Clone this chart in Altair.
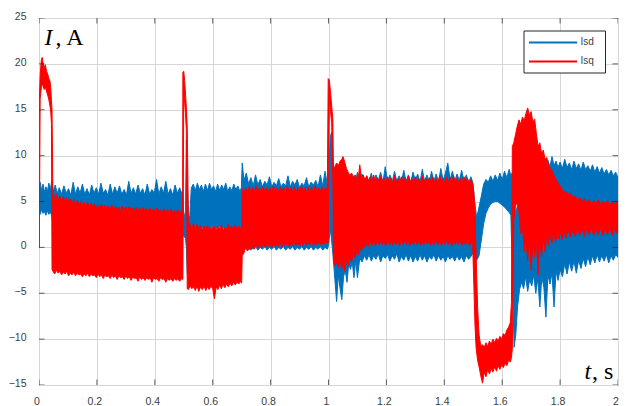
import altair as alt
import pandas as pd

# ---------------- data (lower/upper edge of each noisy band) ----------------
isd_t = [0.000, 0.004, 0.009, 0.014, 0.019, 0.024, 0.029, 0.034, 0.039, 0.044, 0.049, 0.056, 0.063, 0.070, 0.078,
         0.086, 0.094, 0.102, 0.110, 0.118, 0.126, 0.134, 0.142, 0.150, 0.158, 0.166, 0.174, 0.182, 0.190, 0.198,
         0.206, 0.214, 0.222, 0.230, 0.238, 0.246, 0.254, 0.262, 0.270, 0.278, 0.286, 0.294, 0.302, 0.310, 0.318,
         0.326, 0.334, 0.342, 0.350, 0.358, 0.366, 0.374, 0.382, 0.390, 0.398, 0.406, 0.414, 0.422, 0.430, 0.438,
         0.446, 0.454, 0.462, 0.470, 0.478, 0.486, 0.494, 0.497, 0.500, 0.506, 0.509, 0.512, 0.516, 0.521, 0.526,
         0.533, 0.540, 0.547, 0.554, 0.561, 0.568, 0.575, 0.582, 0.589, 0.596, 0.603, 0.610, 0.617, 0.624, 0.631,
         0.638, 0.645, 0.652, 0.659, 0.666, 0.673, 0.680, 0.687, 0.694, 0.699, 0.702, 0.708, 0.716, 0.724, 0.732,
         0.740, 0.748, 0.756, 0.764, 0.772, 0.780, 0.788, 0.796, 0.804, 0.812, 0.820, 0.828, 0.836, 0.844, 0.852,
         0.860, 0.868, 0.876, 0.884, 0.892, 0.900, 0.908, 0.916, 0.924, 0.932, 0.940, 0.948, 0.956, 0.964, 0.972,
         0.980, 0.988, 0.996, 1.000, 1.006, 1.010, 1.016, 1.022, 1.028, 1.034, 1.040, 1.046, 1.052, 1.058, 1.064,
         1.070, 1.076, 1.082, 1.088, 1.094, 1.100, 1.108, 1.116, 1.124, 1.132, 1.140, 1.148, 1.156, 1.164, 1.172,
         1.180, 1.188, 1.196, 1.204, 1.212, 1.220, 1.228, 1.236, 1.244, 1.252, 1.260, 1.268, 1.276, 1.284, 1.292,
         1.300, 1.308, 1.316, 1.324, 1.332, 1.340, 1.348, 1.356, 1.364, 1.372, 1.380, 1.388, 1.396, 1.404, 1.412,
         1.420, 1.428, 1.436, 1.444, 1.452, 1.460, 1.468, 1.476, 1.484, 1.492, 1.499, 1.505, 1.512, 1.520, 1.528,
         1.536, 1.544, 1.552, 1.560, 1.568, 1.576, 1.584, 1.592, 1.600, 1.608, 1.616, 1.624, 1.630, 1.636, 1.641,
         1.647, 1.653, 1.660, 1.667, 1.674, 1.681, 1.688, 1.695, 1.702, 1.709, 1.716, 1.723, 1.730, 1.737, 1.744,
         1.751, 1.758, 1.765, 1.772, 1.779, 1.786, 1.793, 1.800, 1.808, 1.816, 1.824, 1.832, 1.840, 1.848, 1.856,
         1.864, 1.872, 1.880, 1.888, 1.896, 1.904, 1.912, 1.920, 1.928, 1.936, 1.944, 1.952, 1.960, 1.968, 1.976,
         1.984, 1.992, 2.000]
isd_lo = [3.9, 3.6, 4.1, 3.7, 3.9, 3.5, 4.0, 3.6, 3.9, 3.4, 2.6, 2.4, 2.7, 2.5, 2.6,
          2.3, 2.6, 2.4, 2.6, 2.3, 2.6, 2.4, 2.5, 2.3, 2.6, 2.4, 2.5, 2.3, 2.6, 2.4,
          2.5, 2.3, 2.5, 2.4, 2.6, 2.3, 2.5, 2.4, 2.5, 2.3, 2.6, 2.4, 2.5, 2.3, 2.5,
          2.4, 2.6, 2.3, 2.5, 2.4, 2.5, 2.3, 2.5, 2.4, 2.6, 2.3, 2.5, 2.4, 2.5, 2.3,
          2.5, 2.4, 2.6, 2.3, 2.5, 2.4, 2.5, 2.4, 1.2, 1.0, 0.0, -2.8, -3.1, 1.0, 2.2,
          2.0, 2.3, 1.9, 2.2, 2.0, 2.3, 1.9, 2.2, 2.0, 2.3, 1.9, 2.2, 2.0, 2.3, 1.9,
          2.2, 2.0, 2.3, 1.9, 2.2, 2.0, 2.3, 1.9, 2.2, 2.0, -0.4, -0.2, 0.1, -0.3, 0.0,
          -0.2, 0.1, -0.3, 0.0, -0.2, 0.1, -0.3, 0.0, -0.2, 0.1, -0.3, 0.0, -0.2, 0.1, -0.3,
          0.0, -0.2, 0.1, -0.3, 0.0, -0.2, 0.1, -0.3, 0.0, -0.2, 0.1, -0.3, 0.0, -0.2, 0.1,
          -0.3, 0.0, -0.2, 0.2, 2.0, 1.0, -1.0, -3.5, -5.9, -3.0, -4.5, -5.7, -3.2, -2.5, -3.8,
          -1.8, -2.4, -1.6, -3.3, -1.4, -3.3, -1.2, -1.6, -0.9, -1.4, -0.8, -1.5, -0.9, -1.3, -0.7,
          -1.6, -0.9, -1.2, -0.8, -1.5, -0.9, -1.3, -0.7, -1.6, -1.0, -1.4, -0.8, -1.5, -0.9, -1.6,
          -1.0, -1.5, -0.8, -1.4, -0.9, -1.6, -1.0, -1.3, -0.8, -1.5, -0.9, -1.4, -1.0, -1.6, -0.9,
          -1.3, -1.0, -1.5, -0.9, -1.4, -1.0, -1.6, -0.9, -1.3, -1.0, -0.6, -0.8, -1.4, -0.9, 0.8,
          2.6, 3.7, 4.3, 4.7, 4.9, 5.0, 5.0, 4.8, 4.6, 4.4, 4.1, 3.8, 3.5, -4.0, -10.9,
          -9.5, -6.5, -4.6, -3.8, -4.5, -3.2, -4.8, -3.5, -4.2, -3.0, -5.0, -3.4, -6.5, -3.2, -4.4,
          -7.6, -3.0, -4.0, -2.8, -6.5, -2.6, -3.6, -2.4, -3.2, -1.8, -2.9, -1.6, -2.6, -1.5, -2.8,
          -1.4, -2.3, -1.2, -2.1, -1.0, -1.9, -0.9, -1.7, -0.8, -1.6, -0.9, -1.5, -0.8, -1.7, -0.9,
          -1.4, -0.8, -1.1]
isd_hi = [6.4, 7.1, 6.2, 6.9, 6.0, 6.6, 6.1, 7.0, 6.3, 7.2, 6.1, 6.8, 5.9, 6.5, 5.8,
          6.7, 5.9, 6.4, 5.7, 7.1, 5.8, 6.6, 5.9, 6.9, 5.8, 6.4, 5.7, 6.8, 5.9, 6.5,
          5.8, 7.0, 5.9, 6.3, 5.7, 6.9, 5.8, 6.6, 5.9, 6.7, 5.8, 6.3, 5.7, 7.2, 5.9,
          6.5, 5.8, 6.8, 5.9, 6.4, 5.7, 6.9, 5.8, 6.3, 5.9, 7.4, 5.8, 6.6, 5.9, 7.2,
          5.8, 6.4, 5.7, 6.8, 5.9, 6.5, 5.8, 6.2, 3.0, 4.0, 11.7, 8.0, 3.0, 3.5, 6.5,
          6.9, 6.2, 7.0, 6.3, 6.8, 6.1, 6.9, 6.2, 7.0, 6.3, 6.7, 6.1, 6.9, 6.2, 6.8,
          6.3, 7.0, 6.1, 6.6, 6.2, 6.9, 6.3, 6.7, 6.1, 6.5, 9.2, 7.3, 8.1, 6.9, 7.6,
          6.7, 7.9, 6.8, 7.4, 6.6, 7.2, 6.8, 7.7, 6.6, 7.1, 6.7, 7.5, 6.6, 7.0, 6.7,
          7.8, 6.6, 7.2, 6.8, 7.4, 6.5, 7.0, 6.7, 7.6, 6.6, 7.1, 6.8, 7.3, 6.6, 7.9,
          6.7, 8.3, 6.8, 7.0, 12.0, 12.5, 9.0, 7.4, 8.0, 7.2, 7.9, 7.3, 8.1, 7.0, 7.6,
          7.2, 8.0, 7.1, 7.8, 7.3, 8.2, 7.2, 8.0, 7.1, 7.8, 7.2, 8.1, 7.0, 7.9, 7.3,
          8.2, 7.1, 8.8, 7.2, 7.9, 7.1, 8.3, 7.2, 7.8, 7.1, 8.4, 7.2, 7.9, 7.1, 8.2,
          7.3, 8.0, 7.1, 8.5, 7.2, 7.9, 7.1, 8.3, 7.2, 8.0, 7.1, 8.6, 7.3, 8.1, 9.2,
          7.4, 8.3, 7.2, 8.0, 7.3, 8.4, 7.2, 7.9, 7.1, 7.7, 7.0, 5.0, 3.2, 4.4, 5.6,
          6.9, 7.4, 7.1, 7.8, 7.2, 7.9, 7.3, 8.1, 7.4, 8.3, 7.6, 8.5, 7.8, 8.2, 4.5,
          3.8, 4.6, 5.0, 4.2, 6.5, 8.5, 9.5, 8.7, 9.2, 8.6, 9.6, 8.8, 9.4, 8.7, 9.8,
          8.9, 9.5, 8.8, 9.9, 8.9, 9.4, 8.7, 9.3, 8.6, 9.6, 8.7, 9.2, 8.5, 9.4, 8.6,
          9.1, 8.4, 9.3, 8.5, 8.9, 8.3, 9.0, 8.2, 8.8, 8.1, 8.7, 8.0, 8.5, 7.9, 8.4,
          7.8, 8.2, 7.6]

isq_t = [0.000, 0.001, 0.004, 0.008, 0.011, 0.014, 0.018, 0.022, 0.026, 0.030, 0.034, 0.038, 0.041, 0.043, 0.045,
         0.048, 0.054, 0.060, 0.066, 0.072, 0.078, 0.084, 0.090, 0.096, 0.102, 0.108, 0.114, 0.120, 0.126, 0.132,
         0.138, 0.144, 0.150, 0.156, 0.162, 0.168, 0.174, 0.180, 0.186, 0.192, 0.198, 0.204, 0.210, 0.216, 0.222,
         0.228, 0.234, 0.240, 0.246, 0.252, 0.258, 0.264, 0.270, 0.276, 0.282, 0.288, 0.294, 0.300, 0.306, 0.312,
         0.318, 0.324, 0.330, 0.336, 0.342, 0.348, 0.354, 0.360, 0.366, 0.372, 0.378, 0.384, 0.390, 0.396, 0.402,
         0.408, 0.414, 0.420, 0.426, 0.432, 0.438, 0.444, 0.450, 0.456, 0.462, 0.468, 0.474, 0.480, 0.486, 0.492,
         0.496, 0.497, 0.500, 0.503, 0.506, 0.509, 0.512, 0.516, 0.522, 0.528, 0.534, 0.540, 0.546, 0.552, 0.558,
         0.564, 0.570, 0.576, 0.582, 0.588, 0.594, 0.600, 0.606, 0.612, 0.618, 0.624, 0.630, 0.636, 0.642, 0.648,
         0.654, 0.660, 0.666, 0.672, 0.678, 0.684, 0.690, 0.696, 0.700, 0.702, 0.708, 0.714, 0.720, 0.726, 0.732,
         0.738, 0.744, 0.750, 0.756, 0.762, 0.768, 0.774, 0.780, 0.786, 0.792, 0.798, 0.804, 0.810, 0.816, 0.822,
         0.828, 0.834, 0.840, 0.846, 0.852, 0.858, 0.864, 0.870, 0.876, 0.882, 0.888, 0.894, 0.900, 0.906, 0.912,
         0.918, 0.924, 0.930, 0.936, 0.942, 0.948, 0.954, 0.960, 0.966, 0.972, 0.978, 0.984, 0.990, 0.996, 0.999,
         1.003, 1.007, 1.011, 1.015, 1.017, 1.022, 1.028, 1.034, 1.040, 1.046, 1.050, 1.056, 1.062, 1.068, 1.074,
         1.080, 1.086, 1.092, 1.098, 1.104, 1.108, 1.114, 1.120, 1.126, 1.132, 1.138, 1.144, 1.150, 1.156, 1.162,
         1.168, 1.174, 1.180, 1.186, 1.192, 1.198, 1.204, 1.210, 1.216, 1.222, 1.228, 1.234, 1.240, 1.246, 1.252,
         1.258, 1.264, 1.270, 1.276, 1.282, 1.288, 1.294, 1.300, 1.306, 1.312, 1.318, 1.324, 1.330, 1.336, 1.342,
         1.348, 1.354, 1.360, 1.366, 1.372, 1.378, 1.384, 1.390, 1.396, 1.402, 1.408, 1.414, 1.420, 1.426, 1.432,
         1.438, 1.444, 1.450, 1.456, 1.462, 1.468, 1.474, 1.480, 1.486, 1.492, 1.498, 1.502, 1.506, 1.510, 1.515,
         1.520, 1.526, 1.532, 1.538, 1.544, 1.550, 1.556, 1.562, 1.568, 1.574, 1.580, 1.586, 1.592, 1.598, 1.604,
         1.610, 1.616, 1.622, 1.628, 1.632, 1.635, 1.640, 1.646, 1.652, 1.658, 1.664, 1.670, 1.676, 1.682, 1.688,
         1.694, 1.700, 1.706, 1.712, 1.718, 1.724, 1.730, 1.736, 1.742, 1.748, 1.754, 1.760, 1.766, 1.772, 1.778,
         1.784, 1.790, 1.796, 1.802, 1.808, 1.814, 1.820, 1.828, 1.836, 1.844, 1.852, 1.860, 1.868, 1.876, 1.884,
         1.892, 1.900, 1.908, 1.916, 1.924, 1.932, 1.940, 1.948, 1.956, 1.964, 1.972, 1.980, 1.988, 1.996, 2.000]
isq_lo = [0.0, 0.0, 16.2, 17.4, 17.8, 17.6, 17.2, 17.5, 17.0, 16.6, 16.1, 15.4, 14.6, 13.5, -2.4,
          -2.6, -2.9, -2.5, -2.8, -2.6, -3.0, -2.7, -2.9, -2.6, -3.1, -2.8, -3.0, -2.7, -3.1, -2.8,
          -3.0, -2.9, -3.2, -2.9, -3.1, -2.8, -3.2, -2.9, -3.1, -3.0, -3.3, -2.9, -3.2, -3.0, -3.4,
          -3.0, -3.2, -3.1, -3.4, -3.0, -3.3, -3.1, -3.5, -3.1, -3.3, -3.2, -3.5, -3.1, -3.4, -3.2,
          -3.6, -3.2, -3.4, -3.3, -3.7, -3.2, -3.5, -3.3, -3.6, -3.3, -3.5, -3.3, -3.8, -3.3, -3.5,
          -3.4, -3.7, -3.3, -3.5, -3.4, -3.8, -3.4, -3.6, -3.4, -3.7, -3.4, -3.6, -3.4, -3.7, -3.4,
          -3.5, -3.4, 16.8, 15.8, 14.6, 12.8, -4.5, -4.6, -4.2, -4.5, -4.3, -4.7, -4.2, -4.8, -4.3,
          -4.6, -4.2, -4.7, -4.3, -4.6, -4.2, -4.5, -5.6, -4.3, -4.6, -4.1, -4.5, -4.0, -4.4, -4.0,
          -4.3, -3.9, -4.2, -3.8, -4.1, -3.8, -4.0, -3.7, -3.9, -0.9, -0.6, 0.0, -0.4, 0.1, -0.3,
          0.2, -0.2, 0.3, -0.1, 0.3, 0.0, 0.4, 0.0, 0.3, 0.1, 0.4, 0.0, 0.3, 0.1, 0.4,
          0.1, 0.5, 0.1, 0.4, 0.2, 0.5, 0.1, 0.4, 0.2, 0.5, 0.2, 0.5, 0.2, 0.5, 0.2,
          0.6, 0.2, 0.5, 0.3, 0.6, 0.2, 0.5, 0.3, 0.6, 0.3, 0.5, 0.3, 0.6, 0.4, 0.5,
          16.5, 14.8, 13.6, 7.0, -1.5, -2.0, -1.5, -2.2, -1.4, -2.4, -1.6, -2.6, -1.3, -2.0, -1.0,
          -1.6, -0.6, -1.1, -0.3, -0.8, 0.0, -0.4, 0.3, 0.0, 0.5, 0.1, 0.6, 0.2, 0.7, 0.2,
          0.6, 0.3, 0.7, 0.3, 0.6, 0.2, 0.7, 0.3, 0.6, 0.2, 0.7, 0.3, 0.6, 0.2, 0.7,
          0.3, 0.8, 0.3, 0.7, 0.2, 0.6, 0.3, 0.8, 0.3, 0.7, 0.2, 0.6, 0.3, 0.8, 0.3,
          0.7, 0.2, 0.6, 0.3, 0.8, 0.3, 0.7, 0.2, 0.6, 0.3, 0.8, 0.3, 0.7, 0.2, 0.6,
          0.3, 0.8, 0.3, 0.7, 0.2, 0.6, 0.3, 0.7, 0.2, 0.5, 0.3, -4.0, -8.5, -11.0, -12.3,
          -13.0, -14.0, -14.8, -13.6, -14.1, -13.3, -13.8, -13.2, -13.6, -13.0, -13.5, -12.9, -13.3, -12.8, -13.1,
          -12.6, -12.9, -12.3, -12.5, -12.0, -11.0, 3.0, 4.5, 5.0, 3.8, 1.5, 2.5, -0.5, 1.0, -1.5,
          0.8, -2.5, 0.5, -1.0, 0.8, -3.0, 0.6, -1.0, 1.2, -0.5, 1.3, 0.2, 1.5, 0.5, 1.6,
          0.6, 1.5, 0.9, 1.7, 0.8, 1.8, 1.0, 1.9, 1.1, 1.9, 1.2, 2.0, 1.3, 2.1, 1.2,
          2.0, 1.4, 2.1, 1.3, 2.0, 1.4, 2.1, 1.3, 2.0, 1.4, 2.1, 1.3, 2.0, 1.5, 1.8]
isq_hi = [0.3, 15.8, 18.8, 20.4, 20.7, 20.1, 19.6, 19.9, 19.2, 18.9, 18.4, 18.1, 17.2, 16.0, 15.0,
          5.9, 5.3, 5.8, 5.1, 5.6, 5.0, 5.5, 4.9, 5.4, 5.0, 5.3, 4.8, 5.2, 4.7, 5.1,
          4.6, 5.0, 4.6, 4.9, 4.5, 4.9, 4.4, 4.8, 4.4, 4.7, 4.3, 4.6, 4.3, 4.7, 4.2,
          4.6, 4.3, 4.5, 4.2, 4.6, 4.1, 4.5, 4.2, 4.4, 4.0, 4.5, 4.1, 4.4, 4.0, 4.5,
          4.1, 4.3, 4.0, 4.4, 4.0, 4.3, 3.9, 4.4, 4.0, 4.2, 3.9, 4.3, 3.9, 4.2, 3.8,
          4.3, 3.9, 4.1, 3.8, 4.2, 3.9, 4.1, 3.8, 4.2, 3.8, 4.0, 3.8, 4.1, 3.8, 4.0,
          3.9, 19.1, 19.2, 18.2, 16.8, 15.2, 13.2, 2.8, 2.4, 2.2, 2.6, 2.1, 2.5, 2.0, 2.4,
          1.9, 2.3, 2.0, 2.4, 1.9, 2.2, 2.0, 2.3, 1.9, 2.3, 2.0, 2.4, 1.9, 2.2, 2.0,
          2.5, 2.0, 2.3, 2.0, 2.4, 2.0, 2.3, 2.1, 2.2, 6.4, 5.9, 6.5, 6.0, 6.6, 6.0,
          6.5, 6.1, 6.7, 6.1, 6.5, 6.0, 6.6, 6.1, 6.6, 6.0, 6.5, 6.1, 6.7, 6.1, 6.5,
          6.0, 6.6, 6.1, 6.5, 6.0, 6.7, 6.1, 6.5, 6.1, 6.6, 6.0, 6.5, 6.1, 6.7, 6.1,
          6.5, 6.0, 6.6, 6.1, 6.5, 6.0, 6.7, 6.1, 6.5, 6.1, 6.6, 6.2, 6.5, 6.3, 18.4,
          18.2, 16.9, 15.4, 14.0, 8.5, 8.8, 9.2, 8.9, 9.4, 9.6, 9.9, 9.3, 8.6, 8.2, 7.8,
          8.1, 7.6, 7.9, 7.4, 7.8, 9.0, 7.5, 7.9, 7.3, 7.8, 7.2, 7.7, 7.1, 7.9, 7.2,
          7.6, 7.1, 7.8, 7.2, 7.5, 7.0, 7.7, 7.1, 7.6, 7.0, 7.8, 7.1, 7.5, 7.0, 7.7,
          7.2, 7.6, 7.0, 7.8, 7.1, 7.5, 7.0, 7.7, 7.1, 7.5, 7.0, 7.8, 7.2, 7.5, 7.0,
          7.6, 7.1, 7.7, 7.1, 7.5, 7.0, 7.8, 7.2, 7.5, 7.0, 7.7, 7.1, 7.6, 7.0, 7.8,
          7.2, 7.5, 7.0, 7.6, 7.1, 7.7, 7.1, 7.5, 7.0, 7.4, 6.9, 6.0, 3.5, -1.0, -6.5,
          -9.5, -10.8, -10.6, -10.9, -10.4, -10.8, -10.2, -10.6, -10.0, -10.4, -9.9, -10.2, -9.7, -10.0, -9.4,
          -9.6, -9.0, -8.7, -8.2, -6.0, 11.0, 11.4, 12.3, 13.2, 13.9, 13.4, 14.2, 13.8, 14.6, 15.2,
          14.4, 14.8, 13.6, 14.0, 12.4, 11.0, 11.4, 10.2, 10.6, 9.6, 9.8, 9.0, 8.6, 8.4, 7.9,
          7.5, 7.2, 6.8, 6.6, 6.3, 6.0, 6.1, 5.7, 5.9, 5.4, 5.6, 5.2, 5.4, 5.0, 5.3,
          4.9, 5.2, 4.8, 5.1, 4.8, 5.2, 4.7, 5.0, 4.8, 5.1, 4.6, 5.0, 4.7, 5.0, 4.8]

x_ticks = [0, 0.2, 0.4, 0.6, 0.8, 1.0, 1.2, 1.4, 1.6, 1.8, 2.0]
y_ticks = [-15, -10, -5, 0, 5, 10, 15, 20, 25]
series_names = ["Isd", "Isq"]
series_colors = ["#0072BD", "#FF0000"]

# ---------------- chart ----------------
isd = pd.DataFrame({"t": isd_t, "lo": isd_lo, "hi": isd_hi})
isq = pd.DataFrame({"t": isq_t, "lo": isq_lo, "hi": isq_hi})
xt = pd.DataFrame({"t": x_ticks})
yt = pd.DataFrame({"lo": y_ticks})
one = pd.DataFrame({"a": [0]})

W, H = 579, 367
xs = alt.Scale(domain=[0, 2], nice=False, zero=False)
ys = alt.Scale(domain=[-15, 25], nice=False, zero=False)

label_font = "Liberation Sans"
label_color = "#404040"

x_axis = alt.Axis(values=x_ticks, format="~g", title=None, grid=True, ticks=False, domain=False,
                  labelPadding=11, labelOffset=-2.5, labelFont=label_font, labelFontSize=10.5,
                  labelColor=label_color, labelFlush=False, gridColor="#d6d6d6")
y_axis = alt.Axis(values=y_ticks, format="d", title=None, grid=True, ticks=False, domain=False,
                  labelPadding=13, labelOffset=-1.5, labelFont=label_font, labelFontSize=10.5,
                  labelColor=label_color, labelFlush=False, gridColor="#d6d6d6")

def X():
    return alt.X("t:Q", scale=xs, axis=x_axis)

def Y():
    return alt.Y("lo:Q", scale=ys, axis=y_axis)

blue = alt.Chart(isd).mark_area(color=series_colors[0], stroke=series_colors[0], strokeWidth=1,
                                opacity=1, clip=True).encode(x=X(), y=Y(), y2="hi:Q")
red = alt.Chart(isq).mark_area(color=series_colors[1], stroke=series_colors[1], strokeWidth=1,
                               opacity=1, clip=True).encode(x=X(), y=Y(), y2="hi:Q")

tick_kw = dict(color="#262626", thickness=1, size=11, clip=True)
bottom_ticks = alt.Chart(xt).mark_tick(orient="vertical", **tick_kw).encode(x=X(), y=alt.value(H))
top_ticks = alt.Chart(xt).mark_tick(orient="vertical", **tick_kw).encode(x=X(), y=alt.value(0))
left_ticks = alt.Chart(yt).mark_tick(orient="horizontal", **tick_kw).encode(y=Y(), x=alt.value(0))
right_ticks = alt.Chart(yt).mark_tick(orient="horizontal", **tick_kw).encode(y=Y(), x=alt.value(W))

serif = "Liberation Serif"
i_lbl = alt.Chart(one).mark_text(text="I", font=serif, fontSize=24, fontStyle="italic",
                                 align="left", baseline="alphabetic", color="black").encode(
    x=alt.value(5.5), y=alt.value(26.7))
a_lbl = alt.Chart(one).mark_text(text=", A", font=serif, fontSize=24,
                                 align="left", baseline="alphabetic", color="black").encode(
    x=alt.value(16.5), y=alt.value(26.7))
t_lbl = alt.Chart(one).mark_text(text="t", font=serif, fontSize=24, fontStyle="italic",
                                 align="left", baseline="alphabetic", color="black").encode(
    x=alt.value(545.5), y=alt.value(361))
s_lbl = alt.Chart(one).mark_text(text=", s", font=serif, fontSize=24,
                                 align="left", baseline="alphabetic", color="black").encode(
    x=alt.value(553), y=alt.value(361))

leg_box = alt.Chart(one).mark_rect(fill="white", stroke="#262626", strokeWidth=1).encode(
    x=alt.value(485), x2=alt.value(566.5), y=alt.value(13), y2=alt.value(55))
leg_lines = [
    alt.Chart(one).mark_rule(strokeWidth=2, color=c).encode(
        x=alt.value(490), x2=alt.value(538), y=alt.value(yp))
    for c, yp in zip(series_colors, [24.4, 43.4])
]
leg_text = [
    alt.Chart(one).mark_text(text=n, align="left", baseline="middle", font=label_font,
                             fontSize=10, color="#404040").encode(x=alt.value(541.5), y=alt.value(yp))
    for n, yp in zip(series_names, [24.4, 43.4])
]

chart = alt.layer(
    blue, red, bottom_ticks, top_ticks, left_ticks, right_ticks,
    i_lbl, a_lbl, t_lbl, s_lbl, leg_box, *leg_lines, *leg_text
).properties(
    width=W, height=H,
    autosize=alt.AutoSizeParams(type="none"),
    padding={"left": 31, "top": 10, "right": 1, "bottom": 20},
).configure_view(
    stroke="#262626", strokeWidth=1
)

chart.save("out.html", embed_options={"renderer": "svg", "actions": False})
